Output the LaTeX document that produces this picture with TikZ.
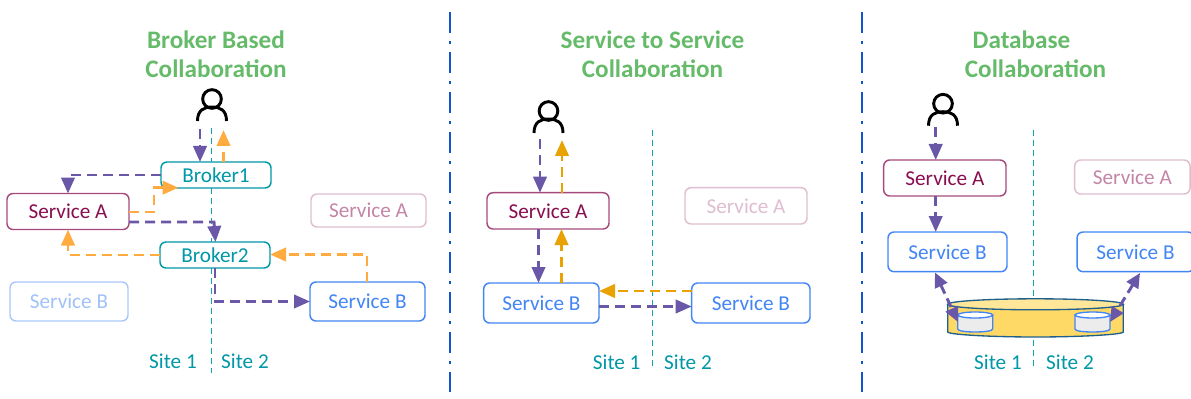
\documentclass[tikz,border=0pt]{standalone}
\usepackage{fontspec}
\setmainfont{Carlito}
\usetikzlibrary{arrows.meta,calc}
\definecolor{violet1}{HTML}{6A57A8}
\definecolor{orangeL}{HTML}{FFAB40}
\definecolor{orangeD}{HTML}{E8A202}
\definecolor{tealc}{HTML}{0097A7}
\definecolor{tealline}{HTML}{12A5AE}
\definecolor{wine}{HTML}{880E4F}
\definecolor{blueB}{HTML}{4285F4}
\definecolor{titlec}{HTML}{66BB6A}
\definecolor{divc}{HTML}{1155CC}
\definecolor{dbedge}{HTML}{1F5F8B}
\definecolor{dbside}{HTML}{FFD966}
\definecolor{dbtop}{HTML}{FFE699}
\tikzset{
  boxbase/.style={draw,fill=white,rounded corners=4.5pt,line width=1.1pt,inner sep=0pt,outer sep=0pt,font=\fontsize{15.9}{17}\selectfont},
  svca/.style={boxbase,draw=wine!75,text=wine},
  svcb/.style={boxbase,draw=blueB,text=blueB},
  brk/.style={boxbase,draw=tealc,text=tealc},
  gha/.style={boxbase,draw=wine!27,text=wine!50},
  ghb/.style={boxbase,draw=blueB!45,text=blueB!50},
  ghc/.style={boxbase,draw=wine!27,text=wine!27},
  titletxt/.style={text=titlec,font=\fontsize{18.9}{21}\selectfont\bfseries,inner sep=0pt},
  sitetxt/.style={text=tealc,font=\fontsize{15.9}{17}\selectfont,inner sep=0pt},
  sline/.style={tealline,line width=1pt,dash pattern=on 4.5pt off 3pt},
  flow/.style={line width=2.2pt,dash pattern=on 7.5pt off 4.5pt,-{Triangle[length=12pt,width=10pt]}},
  vflow/.style={flow,violet1},
  oflow/.style={flow,orangeL},
  dflow/.style={flow,orangeD},
  person/.style={black,line width=2.2pt,fill=none},
  divider/.style={divc,line width=2.2pt,dash pattern=on 15.7pt off 6.4pt on 1.6pt off 6.3pt},
  dbflow/.style={violet1,line width=2.2pt,dash pattern=on 7pt off 4pt,{Triangle[length=11pt,width=10pt]}-{Triangle[length=11pt,width=10pt]}},
}
\newcommand{\bx}[7]{\node[#2,minimum width={(#5-#3)*0.75pt},minimum height={(#6-#4)*0.75pt}] (#1) at ({(#3+#5)/2},{(#4+#6)/2}) {\raisebox{-1.1pt}{#7}};}
\newcommand{\persondraw}[2]{%
  \draw[person] (#1,#2-22) circle[radius=7pt];
  \draw[person] (#1-14.5,#2) .. controls (#1-14.5,#2-11) and (#1-8,#2-14) .. (#1,#2-14) .. controls (#1+8,#2-14) and (#1+14.5,#2-11) .. (#1+14.5,#2);}
\begin{document}
\begin{tikzpicture}[x=0.75pt,y=-0.75pt]
\useasboundingbox (0,0) rectangle (1191,399);
% dividers
\coordinate (d1a) at (450,12); \coordinate (d1b) at (450,392);
\coordinate (d2a) at (862,12); \coordinate (d2b) at (862,392);
\draw[divider] (d1a) -- (d1b);
\draw[divider] (d2a) -- (d2b);
% titles
\node[titletxt] (t1a) at (216,40) {Broker Based};
\node[titletxt] (t1b) at (216,69) {Collaboration};
\node[titletxt] (t2a) at (652.5,40) {Service to Service};
\node[titletxt] (t2b) at (652.5,69) {Collaboration};
\node[titletxt] (t3a) at (1021.5,40) {Database};
\node[titletxt] (t3b) at (1035.5,69) {Collaboration};
% site lines
\coordinate (l1a) at (211.5,128); \coordinate (l1b) at (211.5,373);
\coordinate (l2a) at (652.7,130); \coordinate (l2b) at (652.7,368);
\coordinate (l3a) at (1033.7,130); \coordinate (l3b) at (1033.7,368);
\draw[sline] (l1a) -- (l1b);
\draw[sline] (l2a) -- (l2b);
\draw[sline] (l3a) -- (l3b);
% panel 1
\persondraw{212}{121}
\bx{a1}{svca}{7}{193.5}{129}{229.5}{Service A}
\bx{b1}{brk}{161}{162}{271}{188}{Broker1}
\bx{b2}{brk}{160}{242}{270}{268}{Broker2}
\bx{ga1}{gha}{311}{194}{426}{227}{Service A}
\bx{gb1}{ghb}{10}{282}{128}{321}{Service B}
\bx{s1}{svcb}{310}{282}{425}{321}{Service B}
\coordinate (u1d) at (200,129);
\coordinate (u1u) at (223.5,130);
\draw[vflow] (u1d) -- (b1.north -| u1d);
\draw[oflow] (b1.north -| u1u) -- (u1u);
\draw[vflow] (b1.west) -- (a1.north |- b1.west) -- (a1.north);
\draw[oflow] (a1.east |- 0,212) -- (154,212) -- (154,187.7) -- (178.5,187.7);
\draw[vflow] (a1.east |- 0,222) -- (214,222) -- (215.5,242);
\draw[oflow] (b2.west) -- (a1.south |- b2.west) -- (a1.south);
\draw[oflow] (367,282) -- (367,254.5) -- (b2.east |- 0,254.5);
\draw[vflow] (215,268) -- (215,301.5) -- (s1.west);
\node[sitetxt] (s11) at (173,361) {Site 1};
\node[sitetxt] (s12) at (245,361) {Site 2};
% panel 2
\persondraw{548.5}{133}
\bx{a2}{svca}{487}{192.7}{609}{229}{Service A}
\bx{ga2}{ghc}{685}{187.7}{807}{224}{Service A}
\bx{b21}{svcb}{483.7}{283}{599}{323}{Service B}
\bx{b22}{svcb}{691.7}{283}{810}{323}{Service B}
\coordinate (u2d) at (540,139);
\coordinate (u2u) at (562,140);
\draw[vflow] (u2d) -- (a2.north -| u2d);
\draw[dflow] (a2.north -| u2u) -- (u2u);
\draw[vflow] (a2.south -| 538.5,0) -- (b21.north -| 538.5,0);
\draw[dflow] (b21.north -| 561.5,0) -- (a2.south -| 561.5,0);
\draw[dflow] (b22.west |- 0,291) -- (b21.east |- 0,291);
\draw[vflow] (b21.east |- 0,306.5) -- (b22.west |- 0,306.5);
\node[sitetxt] (s21) at (616.7,362.7) {Site 1};
\node[sitetxt] (s22) at (688,362.7) {Site 2};
% panel 3
\persondraw{943}{125.7}
\bx{a3}{svca}{883.7}{160}{1006}{196}{Service A}
\bx{ga3}{gha}{1074.7}{160}{1190}{194}{Service A}
\bx{b31}{svcb}{888}{232}{1007}{271.7}{Service B}
\bx{b32}{svcb}{1077}{232}{1194}{271.7}{Service B}
\coordinate (u3) at (935.7,127);
\draw[vflow] (u3) -- (a3.north -| u3);
\draw[vflow] (a3.south -| u3) -- (b31.north -| u3);
% big cylinder
\draw[draw=dbedge,line width=1pt,fill=dbside]
  (947.7,304.3) -- (947.7,332) .. controls (947.7,334.5) and (990,337) .. (1035.5,337) .. controls (1081,337) and (1123.3,334.5) .. (1123.3,332) -- (1123.3,304.3) -- cycle;
\draw[draw=dbedge,line width=1pt,fill=dbtop]
  (1035.5,304.3) ellipse[x radius=87.8,y radius=5.5];
% small cylinders
\foreach \cx in {975.2,1092.5}{
  \draw[blueB,line width=1pt,fill=gray!15] (\cx-17.5,315) -- (\cx-17.5,329) .. controls (\cx-17.5,331) and (\cx-9,332) .. (\cx,332) .. controls (\cx+9,332) and (\cx+17.5,331) .. (\cx+17.5,329) -- (\cx+17.5,315) -- cycle;
  \draw[blueB,line width=1pt,fill=white] (\cx,315) ellipse[x radius=17.5,y radius=3];
}
\coordinate (c1) at (958,322);
\coordinate (c2) at (1110,322);
\coordinate (t31) at (935,272.5);
\coordinate (t32) at (1140,273);
\draw[dbflow] (t31) -- (c1);
\draw[dbflow] (t32) -- (c2);
\node[sitetxt] (s31) at (998,362.7) {Site 1};
\node[sitetxt] (s32) at (1070,362.7) {Site 2};
\end{tikzpicture}
\end{document}
